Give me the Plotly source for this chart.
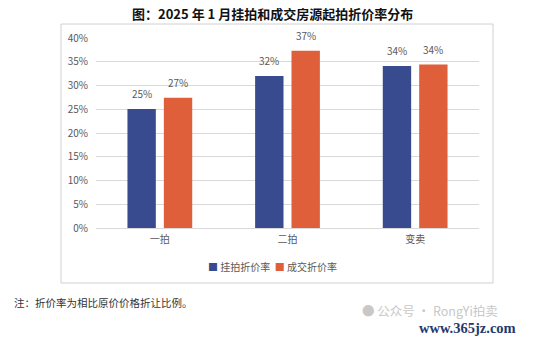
import plotly.graph_objects as go

# Auction types and discount rates (share of original price)
categories = ["一拍", "二拍", "变卖"]
listing_rate = [0.2505, 0.320, 0.341]
deal_rate = [0.274, 0.373, 0.344]
series_names = ["挂拍折价率", "成交折价率"]
y_ticks = [0, 0.05, 0.10, 0.15, 0.20, 0.25, 0.30, 0.35, 0.40]

title_text = "图：2025 年 1 月挂拍和成交房源起拍折价率分布"
note_text = "注：折价率为相比原价价格折让比例。"

BLUE = "#384B8F"
ORANGE = "#E05F3B"
GREY_TXT = "#595959"
CJK = "Noto Sans CJK SC, Microsoft YaHei, sans-serif"

W, H = 540, 337
L, R, T, B = 96, 61, 38, 109
PW, PH = W - L - R, H - T - B
BARGAP, GROUPGAP = 0.43, 0.22


def px_x(x):
    return (x - L) / PW


def px_y(y):
    return (H - B - y) / PH


fig = go.Figure()
series = [(series_names[0], listing_rate, BLUE),
          (series_names[1], deal_rate, ORANGE)]
for name, vals, col in series:
    fig.add_trace(go.Bar(
        x=categories, y=vals, name=name,
        marker=dict(color=col, line=dict(width=0)),
        showlegend=False,
    ))

# value labels above each bar, shifted to the bar's slot inside the group
cat_px = PW / len(categories)
slot_px = cat_px * (1 - BARGAP) / 2
for i, (name, vals, col) in enumerate(series):
    shift = (i - 0.5) * slot_px
    for c, v in zip(categories, vals):
        fig.add_annotation(x=c, y=v, text=f"{v:.0%}", showarrow=False,
                           xshift=shift, yshift=6, yanchor="bottom",
                           font=dict(size=10, color=GREY_TXT, family=CJK))

fig.update_layout(
    width=W, height=H,
    margin=dict(l=L, r=R, t=T, b=B),
    paper_bgcolor="white", plot_bgcolor="white",
    barmode="group", bargap=BARGAP, bargroupgap=GROUPGAP,
    font=dict(family=CJK, color=GREY_TXT, size=10),
    showlegend=False,
    xaxis=dict(showgrid=False, showline=False, ticks="", ticklabelstandoff=4,
               tickfont=dict(size=10, color=GREY_TXT, family=CJK)),
    yaxis=dict(range=[0, 0.40], tickvals=y_ticks, tickformat=".0%",
               showgrid=True, gridcolor="#D9D9D9", gridwidth=1,
               zeroline=True, zerolinecolor="#D9D9D9", zerolinewidth=1,
               showline=False, ticks="", ticklabelstandoff=7,
               tickfont=dict(size=10, color=GREY_TXT, family=CJK)),
)

# compact legend row
legend_html = "  ".join(
    f"<span style='color:{col}'>■</span> {name}" for name, _, col in series)
fig.add_annotation(text=legend_html, xref="paper", yref="paper",
                   x=px_x(272), y=px_y(266), xanchor="center", yanchor="middle",
                   showarrow=False,
                   font=dict(size=10, color=GREY_TXT, family=CJK))

# chart frame
fig.add_shape(type="rect", xref="paper", yref="paper",
              x0=px_x(61), x1=px_x(493), y0=px_y(283), y1=px_y(24),
              line=dict(color="#D0D0D0", width=1), fillcolor="rgba(0,0,0,0)",
              layer="below")

# title
fig.add_annotation(text="<b>" + title_text + "</b>", xref="paper", yref="paper",
                   x=px_x(272), y=px_y(13), xanchor="center", yanchor="middle",
                   showarrow=False,
                   font=dict(size=13, color="#111111", family=CJK))

# footnote
fig.add_annotation(text=note_text, xref="paper", yref="paper",
                   x=px_x(12), y=px_y(302), xanchor="left", yanchor="middle",
                   showarrow=False,
                   font=dict(size=10.5, color="#333333", family=CJK))

# account mark
fig.add_annotation(text="● 公众号 · RongYi拍卖", xref="paper", yref="paper",
                   x=px_x(360), y=px_y(310), xanchor="left", yanchor="middle",
                   showarrow=False,
                   font=dict(size=12.5, color="#C8C8C8", family=CJK))
fig.add_annotation(text="<b>www.365jz.com</b>", xref="paper", yref="paper",
                   x=px_x(417), y=px_y(328), xanchor="left", yanchor="middle",
                   showarrow=False,
                   font=dict(size=14.5, color="#1F3A6E",
                             family="Liberation Serif, DejaVu Serif, serif"))

fig.write_html("out.html")
